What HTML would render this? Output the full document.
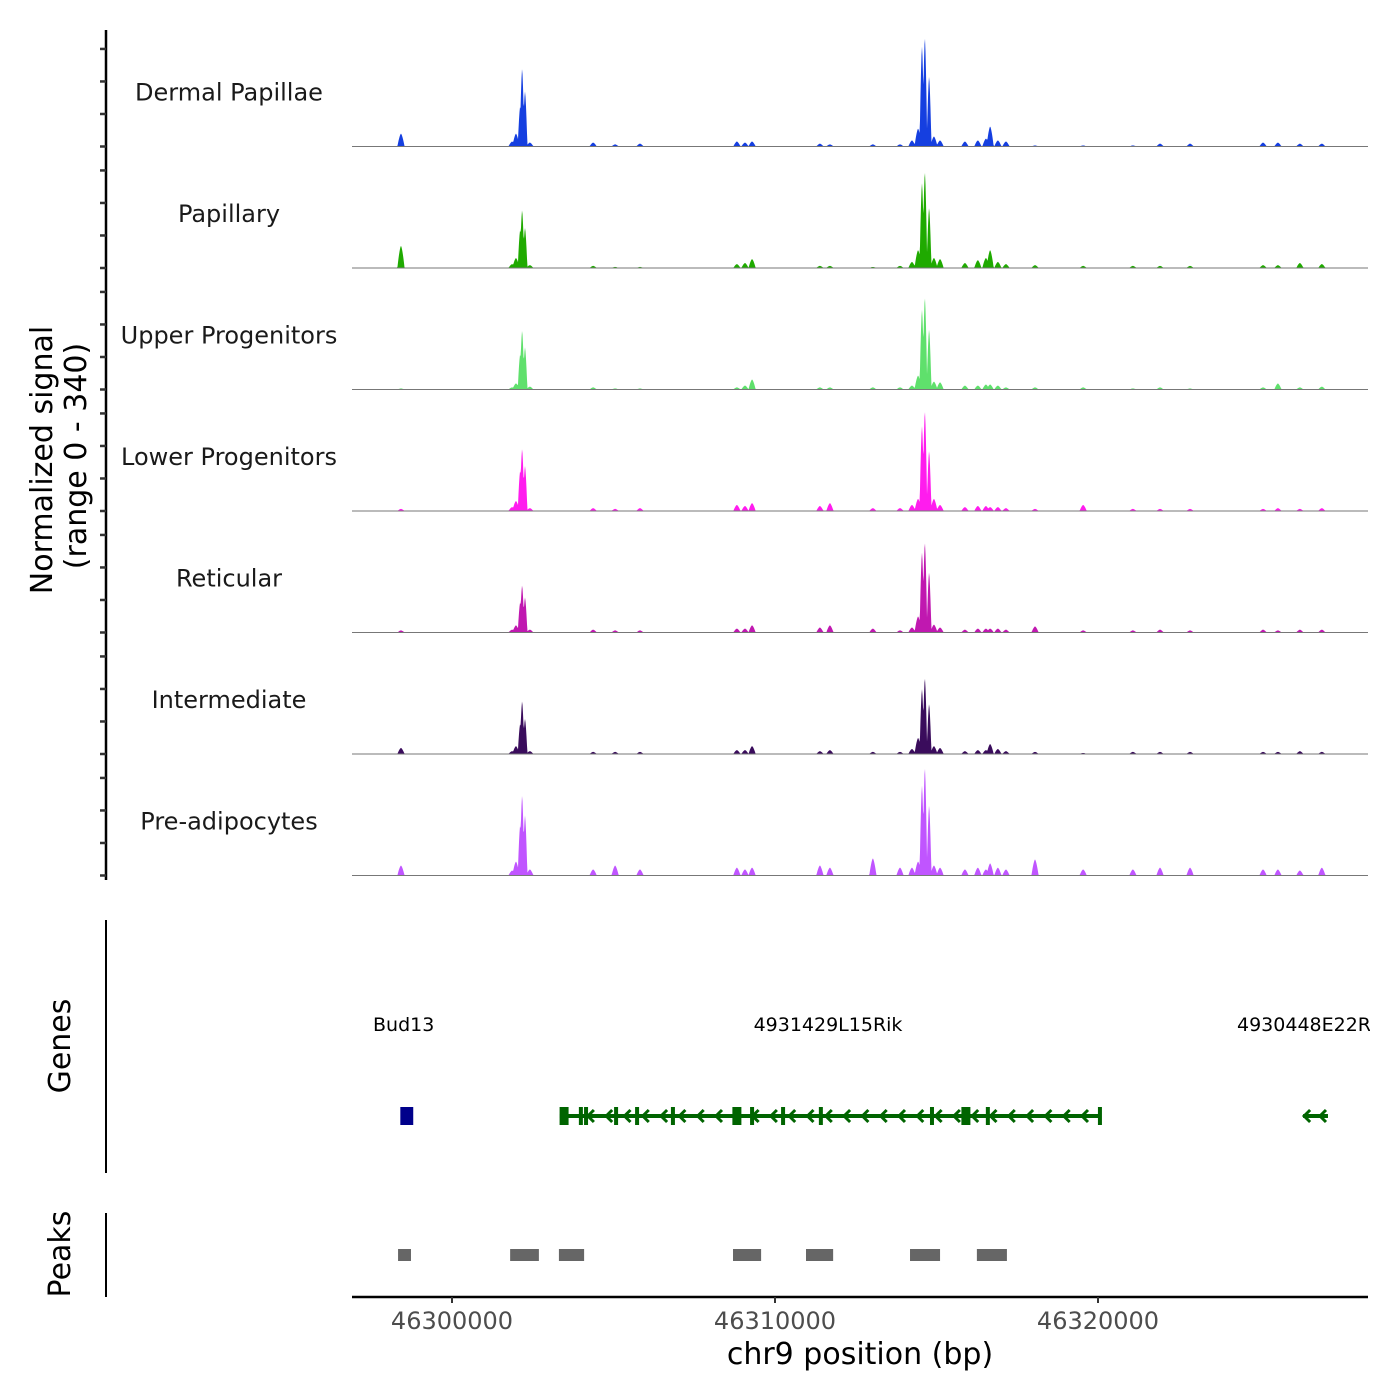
<!DOCTYPE html>
<html><head><meta charset="utf-8"><style>
html,body{margin:0;padding:0;background:#fff}
svg{display:block;font-family:"DejaVu Sans","Liberation Sans",sans-serif}
</style></head><body>
<svg id="chart" width="1400" height="1400" viewBox="0 0 1400 1400" xmlns="http://www.w3.org/2000/svg">
<g id="tracks"></g>
<g id="yaxis"></g>
<text transform="translate(52,460) rotate(-90)" text-anchor="middle" font-size="30" fill="#000">Normalized signal</text>
<text transform="translate(86,456) rotate(-90)" text-anchor="middle" font-size="30" fill="#000">(range 0 - 340)</text>
<g id="genes"></g>
<line x1="106" y1="920" x2="106" y2="1173" stroke="#000" stroke-width="2"/>
<text transform="translate(70,1046) rotate(-90)" text-anchor="middle" font-size="30">Genes</text>
<g id="peaks"></g>
<line x1="106" y1="1213" x2="106" y2="1297" stroke="#000" stroke-width="2"/>
<text transform="translate(70,1254) rotate(-90)" text-anchor="middle" font-size="30">Peaks</text>
<g id="xaxis"></g>
<text x="860" y="1364" text-anchor="middle" font-size="30">chr9 position (bp)</text>
</svg>
<script>
// positions in kb offset from 46300000
const positions = [-1.58,1.86,1.98,2.11,2.17,2.26,2.41,4.37,5.05,5.82,8.82,9.07,9.29,11.39,11.70,13.03,13.87,14.24,14.43,14.55,14.64,14.77,14.92,15.11,15.88,16.28,16.53,16.66,16.90,17.15,18.05,19.54,21.08,21.92,22.85,25.11,25.57,26.25,26.93];
const trackNames = ["Dermal Papillae","Papillary","Upper Progenitors","Lower Progenitors","Reticular","Intermediate","Pre-adipocytes"];
const trackColors = ["#153fe0","#1faa00","#5fe06c","#ff1cee","#c018b0","#3a0c5c","#c055ff"];
const sigDermal = [36,14,36,112,218,154,11,11,6,8,14,11,14,8,6,6,6,17,50,280,305,196,28,17,14,17,22,56,17,14,3,3,3,8,8,11,11,8,8];
const sigPapillary = [62,11,28,106,162,112,8,6,3,3,11,14,25,6,6,3,6,17,50,238,269,168,28,25,14,22,28,50,17,11,8,6,6,6,6,8,8,14,11];
const sigUpper = [3,6,17,98,165,118,8,6,3,3,6,11,28,6,6,6,6,11,39,224,258,168,22,20,11,11,14,14,11,6,6,6,3,6,3,6,17,6,8];
const sigLower = [6,11,28,112,174,126,8,8,6,8,17,14,22,14,22,8,8,17,34,238,280,168,34,17,11,14,14,11,11,8,6,17,6,6,6,6,8,6,8];
const sigReticular = [6,8,20,84,132,98,8,8,6,6,11,11,20,14,20,11,6,14,45,224,252,168,22,14,8,11,11,11,11,8,17,6,6,8,6,8,6,8,8];
const sigIntermediate = [17,8,22,84,148,98,8,6,6,6,11,11,22,8,11,6,6,14,45,182,213,140,22,17,8,11,11,28,14,8,6,3,6,6,6,6,6,8,6];
const sigPreAdipo = [28,14,39,140,224,168,17,17,28,17,22,17,22,28,22,48,22,22,39,252,302,196,28,22,17,22,17,34,22,17,45,17,17,22,22,17,17,14,22];
const series = [sigDermal,sigPapillary,sigUpper,sigLower,sigReticular,sigIntermediate,sigPreAdipo];
const yTickValues = [0,91,182,273];
const xTicks = [46300000,46310000,46320000];
const geneExons = [3.47,3.99,4.15,5.08,5.73,6.84,8.82,9.29,10.25,11.42,14.86,15.91,16.59,20.06];
const geneSpan = [3.34,20.06];
const gene3Span = [26.35,27.12];
const bud13Span = [-1.6,-1.2];
const peakStarts = [-1.67,1.80,3.31,8.70,10.96,14.18,16.25];
const peakEnds = [-1.27,2.69,4.09,9.57,11.80,15.11,17.18];

const NS="http://www.w3.org/2000/svg";
const X0=352,X1=1368;
function xs(kb){return 452+kb*32.3;}
function xbp(bp){return xs((bp-46300000)/1000);}
const trackTop=25, trackH=121.5, maxSig=340;
function mk(tag,attrs,parent){const e=document.createElementNS(NS,tag);for(const k in attrs)e.setAttribute(k,attrs[k]);parent.appendChild(e);return e;}

const tg=document.getElementById('tracks');
series.forEach((vals,t)=>{
  const base=trackTop+trackH*(t+1);
  const ys=v=>base-v/maxSig*trackH;
  const g=mk('g',{},tg);
  
  
  const start=Math.floor(xs(positions[0]))-5, end=Math.ceil(xs(positions[positions.length-1]))+5;
  let d='M'+start+','+base;
  for(let x=start;x<=end;x+=0.5){
    let h=0;
    positions.forEach((p,i)=>{const c=xs(p);const w=vals[i]>80?2.4:3.6;const dx=Math.abs(x-c);if(dx<w){const f=1-Math.pow(dx/w,1.5);h=Math.max(h,vals[i]*f);}});
    h=Math.max(h,1.5);
    d+=' L'+x+','+ys(h).toFixed(2);
  }
  d+=' L'+end+','+base+' Z';
  const area=mk('path',{d:d,fill:trackColors[t]},g);
  
  
  const bl=mk('line',{x1:X0,x2:X1,y1:base,y2:base,stroke:'#777','stroke-width':1},g);
  
  
  const lab=mk('text',{x:229,y:base-46,'text-anchor':'middle','font-size':24,fill:'#1a1a1a'},g);
  lab.textContent=trackNames[t];
  
  
});

const ya=document.getElementById('yaxis');
mk('line',{x1:106,y1:30,x2:106,y2:880,stroke:'#000','stroke-width':2.5},ya);
for(let t=0;t<7;t++){
  const base=trackTop+trackH*(t+1);
  yTickValues.forEach(v=>{const y=base-v/maxSig*trackH;mk('line',{x1:100,y1:y,x2:106,y2:y,stroke:'#333','stroke-width':2.5},ya);});
}

const gg=document.getElementById('genes');
function txt(x,y,s,anchor,name){const e=mk('text',{x:x,y:y,'font-size':19,'text-anchor':anchor},gg);e.textContent=s;}
txt(373,1031,'Bud13','start','gene-label-bud13');
txt(828,1031,'4931429L15Rik','middle','gene-label-4931429l15rik');
const clip=mk('clipPath',{id:'gclip'},gg);mk('rect',{x:0,y:0,width:1370,height:1400},clip);
const t3=mk('text',{x:1237,y:1031,'font-size':19,'clip-path':'url(#gclip)'},gg);t3.textContent='4930448E22Rik';


const gy=1116;
const bud=mk('rect',{x:xs(bud13Span[0]),y:gy-9,width:xs(bud13Span[1])-xs(bud13Span[0]),height:18,fill:'#00008b'},gg);


const gl=mk('line',{x1:xs(geneSpan[0]),x2:xs(geneSpan[1]),y1:gy,y2:gy,stroke:'#006400','stroke-width':4},gg);


geneExons.forEach((p,i)=>{const w=(i===0||i===6||i===11)?9:4;const r=mk('rect',{x:xs(p)-w/2,y:gy-9,width:w,height:18,fill:'#006400'},gg);});
for(let x=xs(geneSpan[0])+30;x<xs(geneSpan[1]);x+=18.3){mk('path',{d:`M${x+4},${gy-6} L${x-2},${gy} L${x+4},${gy+6}`,fill:'none',stroke:'#006400','stroke-width':3},gg);}
mk('line',{x1:xs(gene3Span[0]),x2:xs(gene3Span[1]),y1:gy,y2:gy,stroke:'#006400','stroke-width':4},gg);
mk('path',{d:`M${xs(gene3Span[0])+7},${gy-6} L${xs(gene3Span[0])+1},${gy} L${xs(gene3Span[0])+7},${gy+6}`,fill:'none',stroke:'#006400','stroke-width':3},gg);
mk('path',{d:`M${xs(gene3Span[1])-2},${gy-6} L${xs(gene3Span[1])-8},${gy} L${xs(gene3Span[1])-2},${gy+6}`,fill:'none',stroke:'#006400','stroke-width':3},gg);

const pg=document.getElementById('peaks');
peakStarts.forEach((s,i)=>{const r=mk('rect',{x:xs(s),y:1249,width:xs(peakEnds[i])-xs(s),height:12,fill:'#666'},pg);});

const xa=document.getElementById('xaxis');
mk('line',{x1:X0,x2:X1,y1:1297,y2:1297,stroke:'#000','stroke-width':2.5},xa);
xTicks.forEach(v=>{const x=xbp(v);mk('line',{x1:x,x2:x,y1:1297,y2:1303,stroke:'#333','stroke-width':2},xa);const t=mk('text',{x:x,y:1329,'text-anchor':'middle','font-size':24,fill:'#4d4d4d'},xa);t.textContent=String(v);});
</script>
</body></html>
